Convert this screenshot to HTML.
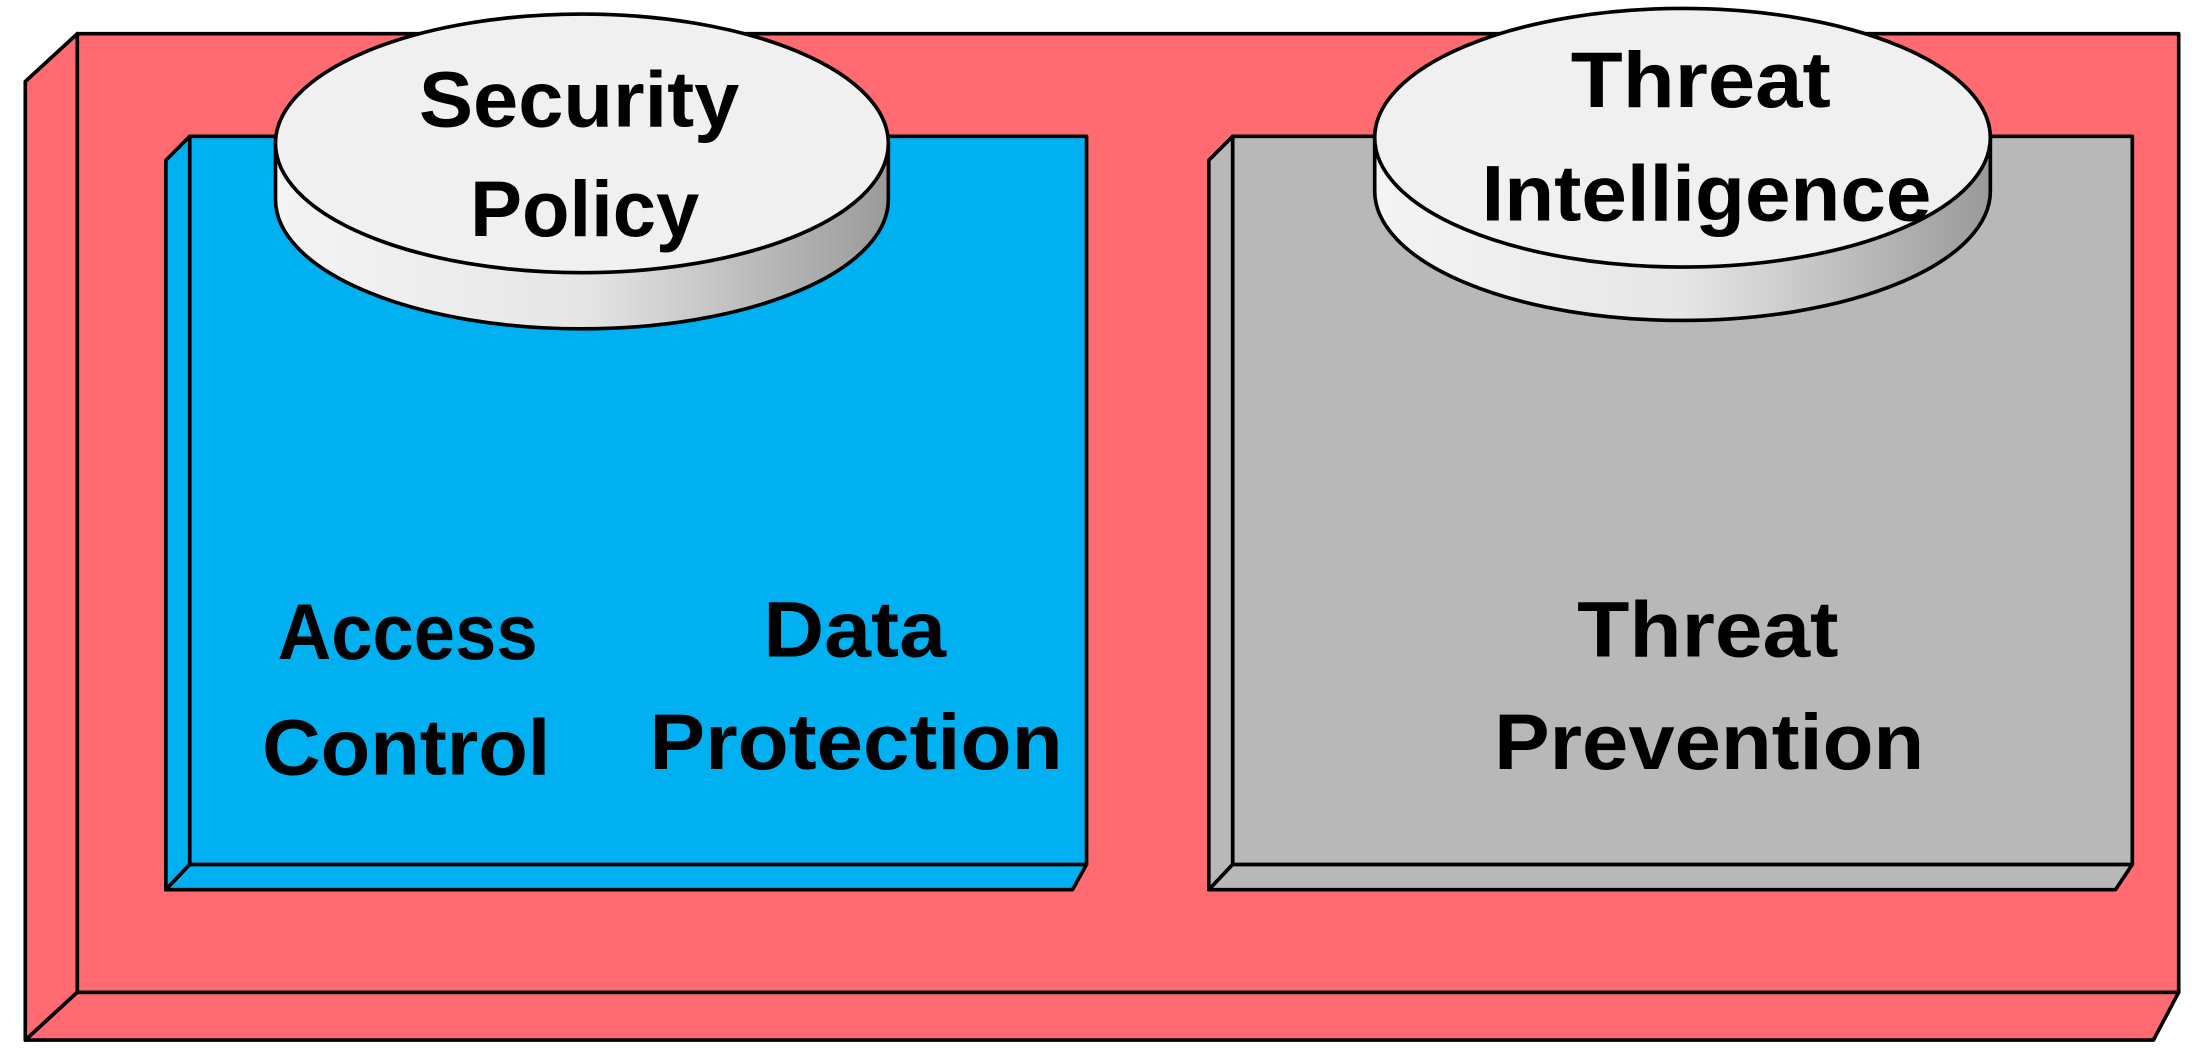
<!DOCTYPE html>
<html><head><meta charset="utf-8"><style>
html,body{margin:0;padding:0;background:#fff;width:2204px;height:1064px;overflow:hidden}
svg{display:block}
text{font-family:"Liberation Sans",sans-serif;font-weight:bold;fill:#000;text-anchor:middle}
</style></head><body>
<svg width="2204" height="1064" viewBox="0 0 1568 757" preserveAspectRatio="none">
<defs>
<linearGradient id="side" x1="0" x2="1" y1="0" y2="0">
<stop offset="0" stop-color="#f4f4f4"/><stop offset="0.5" stop-color="#e6e6e6"/><stop offset="1" stop-color="#9a9a9a"/>
</linearGradient>
</defs>
<g stroke="#000" stroke-width="2.6" stroke-linejoin="round">
<polygon points="18,58 55,24 55,706 18,740" fill="#ff6b70"/>
<polygon points="18,740 55,706 1550,706 1532,740" fill="#ff6b70"/>
<rect x="55" y="24" width="1495" height="682" fill="#ff6b70"/>
<polygon points="118,114 135,97 135,615 118,633" fill="#00b0f0"/>
<polygon points="118,633 135,615 773,615 763,633" fill="#00b0f0"/>
<rect x="135" y="97" width="638" height="518" fill="#00b0f0"/>
<polygon points="860,114 877,97 877,615 860,633" fill="#b8b8b8"/>
<polygon points="860,633 877,615 1517,615 1505,633" fill="#b8b8b8"/>
<rect x="877" y="97" width="640" height="518" fill="#b8b8b8"/>
<path d="M196,102 L196,142 A218,92 0 0 0 632,142 L632,102 Z" fill="url(#side)"/>
<ellipse cx="414" cy="102" rx="218" ry="92" fill="#f0f0f0"/>
<path d="M978,98 L978,136 A219,92 0 0 0 1416,136 L1416,98 Z" fill="url(#side)"/>
<ellipse cx="1197" cy="98" rx="219" ry="92" fill="#f0f0f0"/>
</g>
<g font-size="56">
<text x="412" y="90" textLength="228" lengthAdjust="spacingAndGlyphs">Security</text>
<text x="416" y="168" textLength="163" lengthAdjust="spacingAndGlyphs">Policy</text>
<text x="1210" y="76" textLength="185" lengthAdjust="spacingAndGlyphs">Threat</text>
<text x="1214" y="157" textLength="320" lengthAdjust="spacingAndGlyphs">Intelligence</text>
<text x="290" y="469" textLength="185" lengthAdjust="spacingAndGlyphs">Access</text>
<text x="289" y="551" textLength="205" lengthAdjust="spacingAndGlyphs">Control</text>
<text x="608" y="467" textLength="130" lengthAdjust="spacingAndGlyphs">Data</text>
<text x="609" y="547" textLength="294" lengthAdjust="spacingAndGlyphs">Protection</text>
<text x="1215" y="467" textLength="186" lengthAdjust="spacingAndGlyphs">Threat</text>
<text x="1216" y="547" textLength="306" lengthAdjust="spacingAndGlyphs">Prevention</text>
</g>
</svg>
</body></html>
